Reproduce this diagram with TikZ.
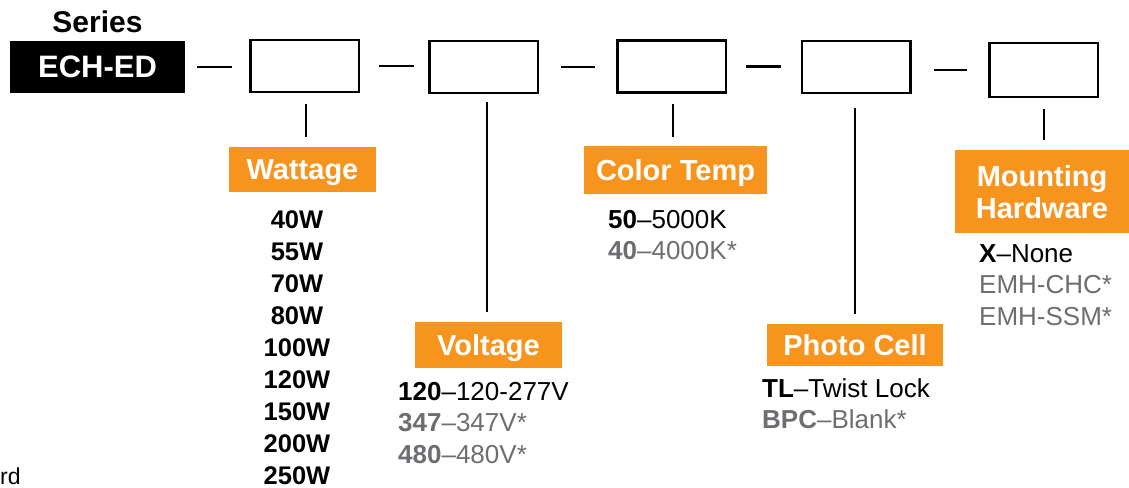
\documentclass[tikz,border=0pt]{standalone}
\usepackage{fontspec}
\setmainfont{Liberation Sans}
\usetikzlibrary{calc}
\definecolor{orng}{HTML}{F7941D}
\definecolor{gry}{HTML}{6D6E71}
\begin{document}
\begin{tikzpicture}[x=1pt,y=-1pt,
  slot/.style={draw=black, line width=2.5pt, minimum width=108.5pt, minimum height=52pt, inner sep=0pt},
  lab/.style={fill=orng, text=white, inner sep=0pt, align=center, text depth=0pt, font=\fontsize{29}{32}\selectfont\bfseries},
  item/.style={anchor=base west, inner sep=0pt, font=\fontsize{26}{28}\selectfont},
  witem/.style={anchor=base, inner sep=0pt, font=\fontsize{25.5}{28}\selectfont\bfseries},
  dashln/.style={line width=2.3pt},
  vln/.style={line width=2pt}]
\useasboundingbox (0,0) rectangle (1129,487);

% series
\node[anchor=base, inner sep=0pt, font=\fontsize{30}{32}\selectfont\bfseries] (serieslbl) at (97.5,33) {Series};
\node[fill=black, text=white, minimum width=175pt, minimum height=52pt, inner sep=0pt,
      font=\fontsize{31}{34}\selectfont\bfseries] (series) at (97.5,67) {ECH-ED};

% slots
\node[slot] (b1) at (304.5,66) {};
\node[slot] (b2) at (483.5,67) {};
\node[slot] (b3) at (671.5,66.5) {};
\node[slot] (b4) at (856,67) {};
\node[slot, minimum height=53.5pt] (b5) at (1043.5,70) {};

% dashes
\draw[dashln, shorten <=12pt, shorten >=17pt] (series.east) -- (series.east -| b1.west);
\draw[dashln, shorten <=19pt, shorten >=14pt] (b1.east) -- (b1.east -| b2.west);
\draw[dashln, shorten <=22pt, shorten >=21pt] (b2.east) -- (b2.east -| b3.west);
\draw[dashln, shorten <=19pt, shorten >=20pt] (b3.east) -- (b3.east -| b4.west);
\draw[dashln, shorten <=22pt, shorten >=21pt] (b4.east |- b5.west) -- (b5.west);

% labels
\node[lab, minimum width=147pt, minimum height=45pt] (wattage) at (302.5,169.5) {Wattage};
\node[lab, minimum width=147pt, minimum height=46pt] (voltage) at (488.5,345) {Voltage};
\node[lab, minimum width=183pt, minimum height=48pt] (ctemp) at (675.5,170) {Color Temp};
\node[lab, minimum width=176pt, minimum height=42pt] (photo) at (855,345) {Photo Cell};
\node[lab, minimum width=174pt, minimum height=83pt] (mount) at (1042,191.5) {Mounting\\Hardware};

% vertical connectors
\draw[vln, shorten <=11pt, shorten >=10pt] ([xshift=1.5pt]b1.south) -- ([xshift=1.5pt]b1.south |- wattage.north);
\draw[vln, shorten <=8pt, shorten >=10pt] ([xshift=3.5pt]b2.south) -- ([xshift=3.5pt]b2.south |- voltage.north);
\draw[vln, shorten <=10pt, shorten >=9pt] ([xshift=1.5pt]b3.south) -- ([xshift=1.5pt]b3.south |- ctemp.north);
\draw[vln, shorten <=14pt, shorten >=10pt] ([xshift=-1pt]b4.south) -- ([xshift=-1pt]b4.south |- photo.north);
\draw[vln, shorten <=11pt, shorten >=10pt] ([xshift=0.5pt]b5.south) -- ([xshift=0.5pt]b5.south |- mount.north);

% wattage list
\foreach \w [count=\i] in {40W,55W,70W,80W,100W,120W,150W,200W,250W}
  \node[witem] (w\i) at (297,{228+32*(\i-1)}) {\w};

% color temp list
\node[item] (ct1) at (608,228) {\textbf{50}–5000K};
\node[item, text=gry] (ct2) at (608,259) {\textbf{40}–4000K*};

% voltage list
\node[item] (v1) at (398,400) {\textbf{120}–120-277V};
\node[item, text=gry] (v2) at (398,431) {\textbf{347}–347V*};
\node[item, text=gry] (v3) at (398,463) {\textbf{480}–480V*};

% photo cell list
\node[item] (p1) at (762,397) {\textbf{TL}–Twist Lock};
\node[item, text=gry] (p2) at (762,428) {\textbf{BPC}–Blank*};

% mounting list
\node[item] (m1) at (979,262) {\textbf{X}–None};
\node[item, text=gry] (m2) at (979,293) {EMH-CHC*};
\node[item, text=gry] (m3) at (979,325) {EMH-SSM*};

% cut-off text
\node[anchor=base west, inner sep=0pt, font=\fontsize{23}{26}\selectfont] (rd) at (0,484) {rd};
\end{tikzpicture}
\end{document}
